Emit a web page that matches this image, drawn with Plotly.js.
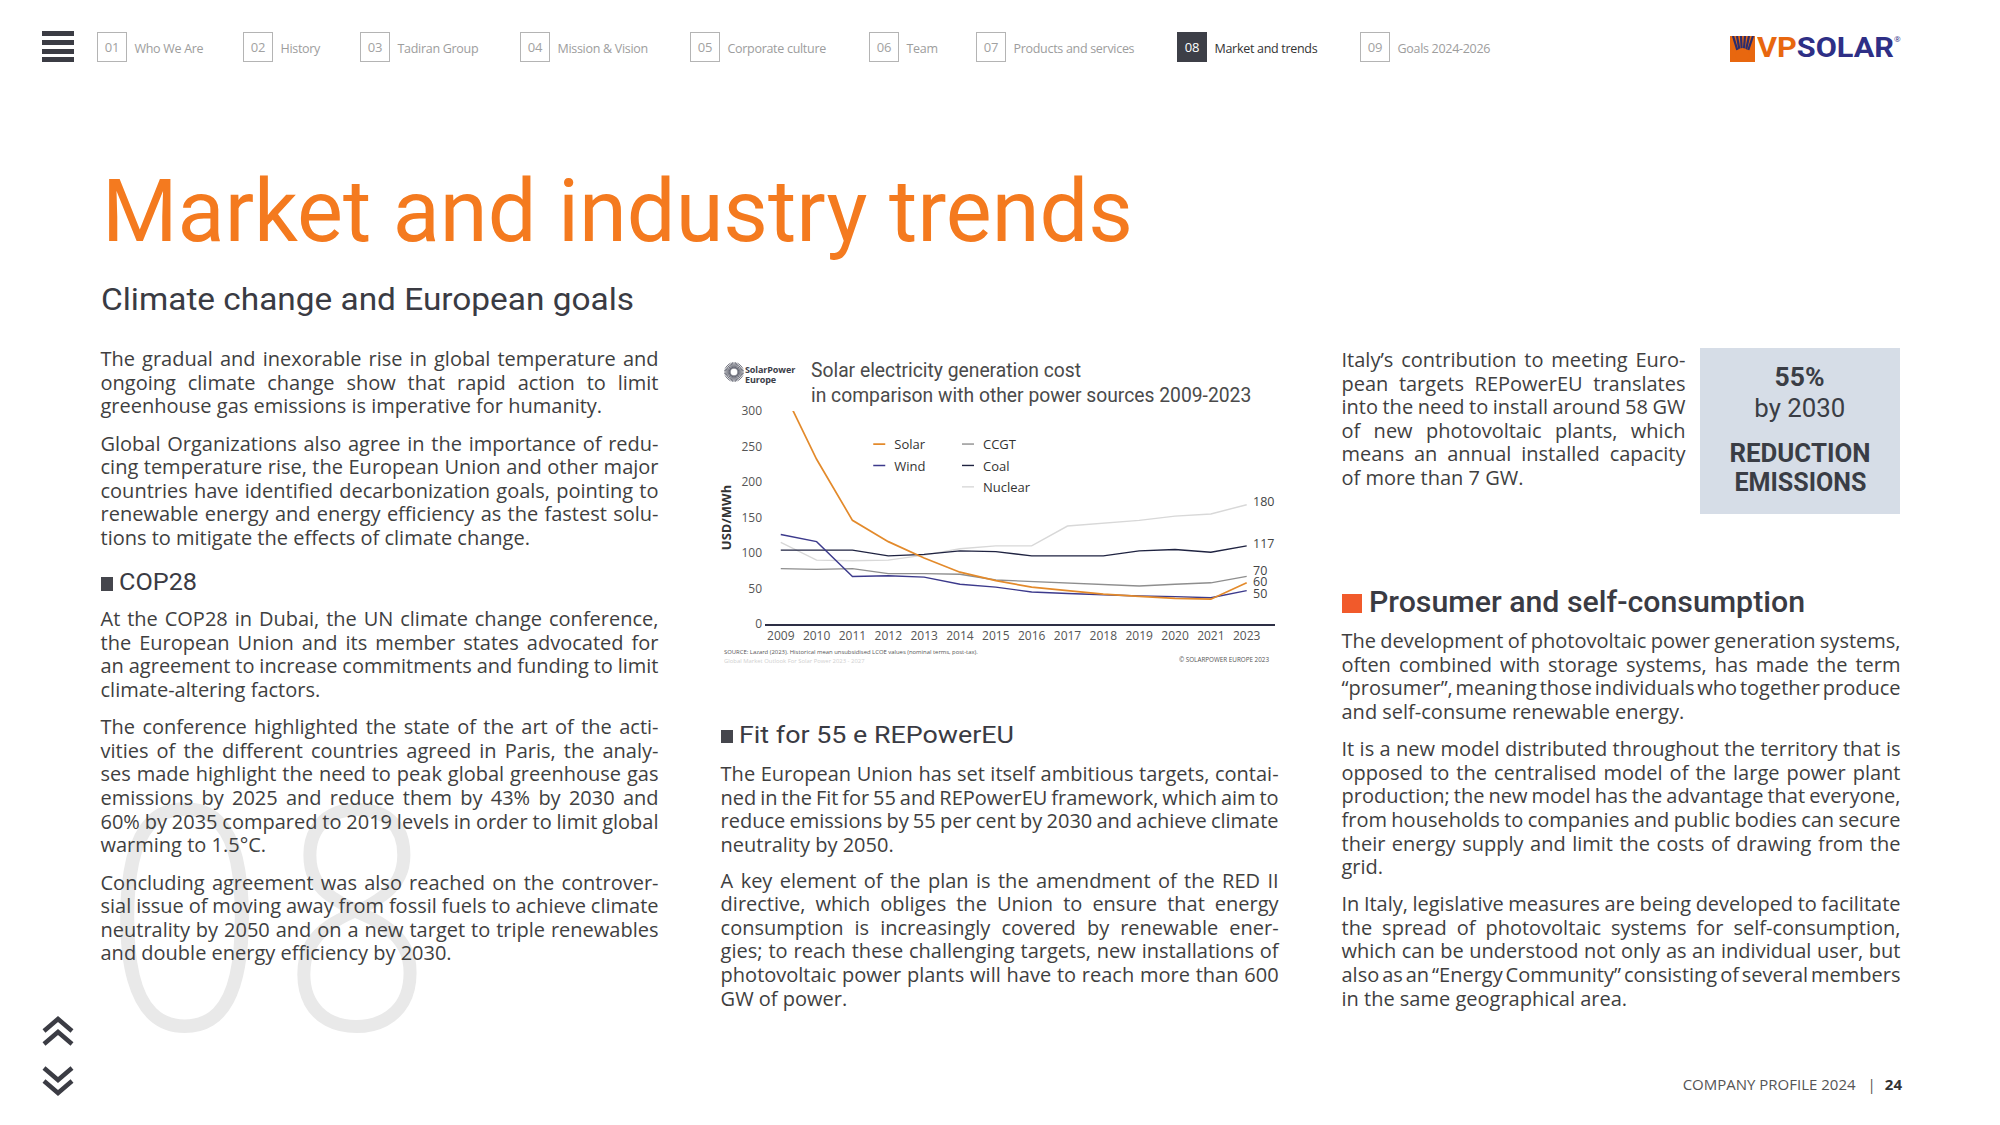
<!DOCTYPE html>
<html><head><meta charset="utf-8">
<script src="https://cdn.plot.ly/plotly-3.0.1.min.js"></script>
<style>
html,body{margin:0;padding:0;background:#fff;}
#page{position:relative;width:2000px;height:1125px;overflow:hidden;font-family:'Open Sans',sans-serif;color:#404040;background:#fff;}
.abs{position:absolute;white-space:nowrap;}
.para{position:absolute;font-size:20px;letter-spacing:0px;color:#3f3f3f;z-index:2;}
.ln{white-space:nowrap;}
.h{position:absolute;font-family:Roboto,sans-serif;white-space:nowrap;transform-origin:0 50%;z-index:2;}
.navbox{position:absolute;top:32px;width:28px;height:28px;border:1.5px solid #b4b4b4;color:#a2a2a2;font-size:13px;line-height:28px;text-align:center;letter-spacing:-0.3px;}
.navlab{position:absolute;top:40.5px;font-size:12.5px;line-height:16px;color:#9d9d9d;letter-spacing:-0.3px;white-space:nowrap;}
#chart{position:absolute;left:715px;top:350px;width:580px;height:320px;z-index:3;}
</style></head>
<body><div id="page"></div>
<script>
// ---------------- chart data ----------------
const years = ['2009','2010','2011','2012','2013','2014','2015','2016','2017','2018','2019','2020','2021','2023'];
const solar   = [336, 232, 146, 116, 93, 73, 61, 52, 47, 42, 39, 36, 35, 58];
const wind    = [126, 116, 67, 68, 66, 56, 52, 45, 43, 41, 39.5, 38.5, 37, 47];
const ccgt    = [78, 77, 78, 71, 71, 70, 62, 60, 57, 55, 53.5, 56, 58, 67];
const coal    = [104, 104, 104, 96, 98, 103, 102, 96, 96, 96, 103, 105, 101, 110];
const nuclear = [115, 90, 89, 90, 97, 106, 110, 110, 138, 142, 146, 152, 155, 168];
const endLabels = {Solar:'60', Wind:'50', CCGT:'70', Coal:'117', Nuclear:'180'};
const yTicks = [0, 50, 100, 150, 200, 250, 300];
const chartTitle = 'Solar electricity generation cost<br>in comparison with other power sources 2009-2023';
const yTitle = 'USD/MWh';

// ---------------- page text ----------------
const navNums = ['01','02','03','04','05','06','07','08','09'];
const navLabels = ['Who We Are','History','Tadiran Group','Mission & Vision','Corporate culture','Team','Products and services','Market and trends','Goals 2024-2026'];
const activeNav = 7;

const paragraphs = [
 {x:100.5, y:347, w:557.5, lines:[
  'The gradual and inexorable rise in global temperature and',
  'ongoing climate change show that rapid action to limit',
  'greenhouse gas emissions is imperative for humanity.']},
 {x:100.5, y:431.5, w:557.5, lines:[
  'Global Organizations also agree in the importance of redu-',
  'cing temperature rise, the European Union and other major',
  'countries have identified decarbonization goals, pointing to',
  'renewable energy and energy efficiency as the fastest solu-',
  'tions to mitigate the effects of climate change.']},
 {x:100.5, y:607, w:557.5, lines:[
  'At the COP28 in Dubai, the UN climate change conference,',
  'the European Union and its member states advocated for',
  'an agreement to increase commitments and funding to limit',
  'climate-altering factors.']},
 {x:100.5, y:715, w:557.5, lines:[
  'The conference highlighted the state of the art of the acti-',
  'vities of the different countries agreed in Paris, the analy-',
  'ses made highlight the need to peak global greenhouse gas',
  'emissions by 2025 and reduce them by 43% by 2030 and',
  '60% by 2035 compared to 2019 levels in order to limit global',
  'warming to 1.5°C.']},
 {x:100.5, y:870.5, w:557.5, lines:[
  'Concluding agreement was also reached on the controver-',
  'sial issue of moving away from fossil fuels to achieve climate',
  'neutrality by 2050 and on a new target to triple renewables',
  'and double energy efficiency by 2030.']},
 {x:720.6, y:762, w:557.5, lines:[
  'The European Union has set itself ambitious targets, contai-',
  'ned in the Fit for 55 and REPowerEU framework, which aim to',
  'reduce emissions by 55 per cent by 2030 and achieve climate',
  'neutrality by 2050.']},
 {x:720.6, y:868.5, w:557.5, lines:[
  'A key element of the plan is the amendment of the RED II',
  'directive, which obliges the Union to ensure that energy',
  'consumption is increasingly covered by renewable ener-',
  'gies; to reach these challenging targets, new installations of',
  'photovoltaic power plants will have to reach more than 600',
  'GW of power.']},
 {x:1341.5, y:348, w:343.5, pitch:23.5, lines:[
  'Italy’s contribution to meeting Euro-',
  'pean targets REPowerEU translates',
  'into the need to install around 58 GW',
  'of new photovoltaic plants, which',
  'means an annual installed capacity',
  'of more than 7 GW.']},
 {x:1341.5, y:629, w:558.5, lines:[
  'The development of photovoltaic power generation systems,',
  'often combined with storage systems, has made the term',
  '“prosumer”, meaning those individuals who together produce',
  'and self-consume renewable energy.']},
 {x:1341.5, y:737, w:558.5, lines:[
  'It is a new model distributed throughout the territory that is',
  'opposed to the centralised model of the large power plant',
  'production; the new model has the advantage that everyone,',
  'from households to companies and public bodies can secure',
  'their energy supply and limit the costs of drawing from the',
  'grid.']},
 {x:1341.5, y:892, w:558.5, lines:[
  'In Italy, legislative measures are being developed to facilitate',
  'the spread of photovoltaic systems for self-consumption,',
  'which can be understood not only as an individual user, but',
  'also as an “Energy Community” consisting of several members',
  'in the same geographical area.']}
];

const page = document.getElementById('page');
function el(tag, cls, style, html){
  const e=document.createElement(tag); if(cls) e.className=cls;
  if(style) e.setAttribute('style',style); if(html!==undefined) e.innerHTML=html;
  page.appendChild(e); return e;
}

// watermark
el('div','abs','left:104px;top:751px;font-family:"Open Sans";font-weight:300;font-size:314px;line-height:314px;color:#e9e9e9;z-index:1;transform:scaleX(0.9);transform-origin:0 50%;','0');
el('div','abs','left:282px;top:751px;font-family:"Open Sans";font-weight:300;font-size:314px;line-height:314px;color:#e9e9e9;z-index:1;transform:scaleX(0.84);transform-origin:0 50%;','8');

// hamburger
[31,39.5,48.5,57].forEach(t=>el('div','abs',`left:42px;top:${t}px;width:32px;height:5px;background:#3b3c44;`));

// nav
const navBoxX=[97,243,360,520,690,869,976,1177,1360];
navNums.forEach((n,i)=>{
  const b=el('div','navbox',`left:${navBoxX[i]}px;`,n);
  if(i===activeNav){b.style.background='#3d3f47';b.style.borderColor='#3d3f47';b.style.color='#fff';}
  const l=el('div','navlab',`left:${navBoxX[i]+37.5}px;`,navLabels[i].replace('&','&amp;'));
  if(i===activeNav){l.style.color='#333';}
});

// VP SOLAR logo
el('div','abs','left:1730px;top:36px;width:25px;height:26px;background:#e8670f;z-index:2;overflow:hidden;',
 '<svg width="25" height="26"><g stroke="#2b2d6e" stroke-width="2.2">'+
 [3,7,11,15,19,23].map(x=>`<line x1="${x}" y1="0" x2="${12.5+(x-12.5)*0.55}" y2="14"/>`).join('')+
 '</g><circle cx="12.5" cy="19" r="7" fill="#e8670f"/></svg>');
const logoT=el('div','h','left:1757px;top:33px;font-size:28px;line-height:30px;font-weight:700;','<span style="color:#e8670f">VP</span><span style="color:#2e2f86">SOLAR</span>');
el('div','abs','left:1894px;top:33px;font-size:8px;color:#2e2f86;','®');

// titles
const t1=el('div','h','left:102px;top:167.5px;font-size:87px;line-height:87px;color:#f47a1f;font-weight:400;','Market and industry trends');
const t2=el('div','h','left:101px;top:285px;font-size:30.5px;line-height:30.5px;color:#3a3b43;font-weight:400;','Climate change and European goals');

// section headings
el('div','abs','left:100.5px;top:577.3px;width:12.6px;height:13.4px;background:#45464d;');
const h1=el('div','h','left:119px;top:569.7px;font-size:24.3px;line-height:24px;color:#3a3b43;','COP28');
el('div','abs','left:720.6px;top:729.8px;width:12.6px;height:12.8px;background:#45464d;');
const h2=el('div','h','left:738.5px;top:722.7px;font-size:24.3px;line-height:24px;color:#3a3b43;','Fit for 55 e REPowerEU');
el('div','abs','left:1341.8px;top:594px;width:20.2px;height:19px;background:#f15a2b;');
const h3=el('div','h','left:1368.8px;top:587.8px;font-size:29px;line-height:29px;color:#3a3b43;font-weight:500;','Prosumer and self-consumption');

// stat box
el('div','abs','left:1700px;top:348.3px;width:200px;height:166px;background:#d6dde7;z-index:1;');
const boxTexts=[['55%',377.3,700,50],['by 2030',407.8,400,91],['REDUCTION',452.7,700,141],['EMISSIONS',481.7,700,132]];
const boxEls=boxTexts.map(b=>{
  const e=el('div','h',`left:1800px;top:${b[1]-13}px;font-size:26px;line-height:26px;font-weight:${b[2]};color:#3a3d45;transform-origin:50% 50%;`,b[0]);
  return [e,b[3]];
});

// paragraphs
paragraphs.forEach(p=>{
  const d=el('div','para',`left:${p.x}px;top:${p.y}px;width:${p.w}px;`);
  const pitch=p.pitch||23.65;
  p.lines.forEach((t,i)=>{
    const ln=document.createElement('div');
    ln.className='ln'+(i<p.lines.length-1?' j':'');
    ln.style.height=pitch+'px'; ln.style.lineHeight=pitch+'px';
    const s=document.createElement('span'); s.textContent=t; ln.appendChild(s); d.appendChild(ln);
  });
});

// chevrons
el('div','abs','left:40px;top:1015px;',
 '<svg width="36" height="84"><g fill="none" stroke="#3b3c44" stroke-width="4.5" stroke-linejoin="miter">'+
 '<polyline points="4,16 18,4 32,16"/><polyline points="4,29 18,17 32,29"/>'+
 '<polyline points="4,53 18,65 32,53"/><polyline points="4,66 18,78 32,66"/></g></svg>');

// footer
el('div','abs','right:98px;top:1073.5px;font-size:15px;line-height:20px;color:#555;',
 'COMPANY PROFILE 2024<span style="display:inline-block;width:12px"></span>|<span style="display:inline-block;width:9px"></span><b style="color:#333">24</b>');

// chart decorations (logo + source)
let rays='';
for(let a=0;a<360;a+=9){const r=a*Math.PI/180;rays+=`<line x1="${10+3.6*Math.cos(r)}" y1="${10+3.6*Math.sin(r)}" x2="${10+9.8*Math.cos(r)}" y2="${10+9.8*Math.sin(r)}"/>`;}
el('div','abs','left:724px;top:362px;z-index:4;',`<svg width="20" height="20"><g stroke="#4a4d5a" stroke-width="0.8">${rays}</g></svg>`);
el('div','abs','left:745px;top:365px;font-size:9px;line-height:9.5px;font-weight:700;color:#3b3d48;z-index:4;letter-spacing:-0.1px;','SolarPower<br>Europe');
el('div','abs','left:724px;top:649px;font-size:5.9px;line-height:7px;color:#555;z-index:4;','SOURCE: Lazard (2023). Historical mean unsubsidised LCOE values (nominal terms, post-tax).');
el('div','abs','left:724px;top:657.5px;font-size:5.9px;line-height:7px;color:#d0d0d0;z-index:4;','Global Market Outlook For Solar Power 2023 - 2027');
el('div','abs','right:731px;top:655.8px;font-size:6.3px;line-height:7px;color:#555;z-index:4;','© SOLARPOWER EUROPE 2023');

const chartDiv=el('div','','');
chartDiv.id='chart';

// ---------------- plotly chart ----------------
const seriesData = {Solar:solar, Wind:wind, CCGT:ccgt, Coal:coal, Nuclear:nuclear};
const drawOrder = ['Nuclear','CCGT','Coal','Wind','Solar'];
const style = {
  Solar:  {color:'#e38a2b', width:1.7, legend:'legend',  rank:1, yshift:1},
  Wind:   {color:'#3c3a8c', width:1.4, legend:'legend',  rank:2, yshift:-3},
  CCGT:   {color:'#8e8e8e', width:1.4, legend:'legend2', rank:3, yshift:6},
  Coal:   {color:'#1f2341', width:1.4, legend:'legend2', rank:4, yshift:2},
  Nuclear:{color:'#d8d8d8', width:1.4, legend:'legend2', rank:5, yshift:3}
};
const traces = drawOrder.map(n=>({
  x: years, y: seriesData[n], type:'scatter', mode:'lines', name:n,
  line:{color:style[n].color, width:style[n].width},
  legend: style[n].legend, legendgroup:n, legendrank:style[n].rank, hoverinfo:'skip'
}));
const last = years.length-1;
const annotations = drawOrder.map(n=>({
  x: last, y: seriesData[n][last], xref:'x', yref:'y', text:endLabels[n],
  showarrow:false, xanchor:'left', yanchor:'middle', xshift:4, yshift:style[n].yshift,
  font:{family:'Open Sans', size:12.5, color:'#444'}
}));
const tickFont={family:'Open Sans', size:12, color:'#555'};
const legendBase={xanchor:'left', yanchor:'top', bgcolor:'rgba(0,0,0,0)', borderwidth:0,
  font:{family:'Open Sans', size:13, color:'#333'}, traceorder:'grouped', tracegroupgap:1.5, itemwidth:30, orientation:'v'};
const layout = {
  width:580, height:320, margin:{l:50, r:20, t:61, b:46},
  paper_bgcolor:'rgba(0,0,0,0)', plot_bgcolor:'rgba(0,0,0,0)',
  title:{text:chartTitle, xref:'container', x:96/580, xanchor:'left', yref:'container', y:0.916, yanchor:'top',
    font:{family:'Roboto', size:19.3, color:'#4a4a4a'}},
  showlegend:true,
  legend: Object.assign({}, legendBase, {x:0.175, y:0.915}),
  legend2: Object.assign({}, legendBase, {x:0.349, y:0.915}),
  xaxis:{type:'category', range:[-0.44, 13.79], showline:true, linecolor:'#2d2f45', linewidth:1.5,
    showgrid:false, zeroline:false, ticks:'', tickfont:tickFont, fixedrange:true},
  yaxis:{range:[0,300], tickvals:yTicks, showgrid:false, zeroline:false, showline:false, ticks:'',
    tickfont:tickFont, ticklabelstandoff:2, fixedrange:true,
    title:{text:'<b>'+yTitle+'</b>', font:{family:'Open Sans', size:13, color:'#333'}, standoff:6}},
  annotations: annotations
};
Plotly.newPlot('chart', traces, layout, {displayModeBar:false, staticPlot:true}).then(()=>{
  document.querySelectorAll('#chart .legendlines path').forEach(p=>p.setAttribute('d','M19,0h12'));
});

// ---------------- text fitting ----------------
function fitW(e,target){ e.style.transform='none'; const w=e.getBoundingClientRect().width; e.style.transform=`scaleX(${target/w})`; }
document.fonts.ready.then(()=>{
  document.querySelectorAll('.ln.j').forEach(ln=>{
    const s=ln.firstChild; ln.style.wordSpacing='0px';
    const w=s.getBoundingClientRect().width, W=ln.clientWidth;
    const n=(s.textContent.match(/ /g)||[]).length;
    if(n) ln.style.wordSpacing=((W-w)/n)+'px';
  });
  fitW(t1,1031); fitW(t2,533); fitW(h1,78); fitW(h2,275); fitW(h3,436); fitW(logoT,137);
  boxEls.forEach(([e,tw])=>{ e.style.transform='none'; const w=e.getBoundingClientRect().width; e.style.left=(1800-w/2)+'px'; e.style.transform=`scaleX(${tw/w})`; });
});
</script>
</body></html>
